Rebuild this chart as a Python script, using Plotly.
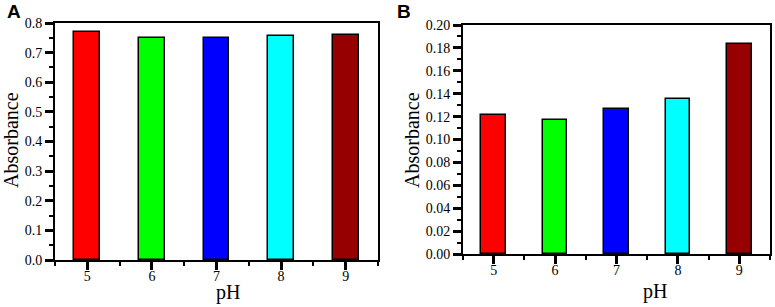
import plotly.graph_objects as go

ph = [5, 6, 7, 8, 9]
absorb_a = [0.768, 0.750, 0.750, 0.756, 0.761]
absorb_b = [0.121, 0.117, 0.127, 0.135, 0.183]
bar_colors = ["#FF0000", "#00FF00", "#0000FF", "#00FFFF", "#960000"]
panel_labels = ["A", "B"]
x_title = "pH"
y_title = "Absorbance"

W, H = 775, 307
fig = go.Figure()
fig.add_trace(go.Bar(x=ph, y=absorb_a, width=0.4, marker=dict(color=bar_colors, line=dict(color="black", width=1.5)),
                     xaxis="x", yaxis="y", showlegend=False))
fig.add_trace(go.Bar(x=ph, y=absorb_b, width=0.4, marker=dict(color=bar_colors, line=dict(color="black", width=1.5)),
                     xaxis="x2", yaxis="y2", showlegend=False))

serif = "Liberation Serif"
tickfont = dict(family=serif, size=14, color="black")

def xax(domain, anchor):
    return dict(domain=domain, anchor=anchor, range=[4.5, 9.5], tickmode="linear", tick0=5, dtick=1,
                ticks="outside", ticklen=8, tickwidth=2.5, tickcolor="black", automargin=False,
                ticklabelstandoff=-6,
                showline=True, linewidth=2, linecolor="black", mirror=True,
                showgrid=False, zeroline=False, tickfont=tickfont,
                minor=dict(tick0=4.5, dtick=0.5, ticks="outside", ticklen=4, tickwidth=2, tickcolor="black", showgrid=False))

def yax(domain, anchor, rng, dtick, mdtick, fmt):
    return dict(domain=domain, anchor=anchor, range=rng, tickmode="linear", tick0=0, dtick=dtick,
                ticks="outside", ticklen=8, tickwidth=2.5, tickcolor="black", automargin=False,
                showline=True, linewidth=2, linecolor="black", mirror=True,
                showgrid=False, zeroline=False, tickfont=tickfont, tickformat=fmt,
                minor=dict(tick0=0, dtick=mdtick, ticks="outside", ticklen=4, tickwidth=2, tickcolor="black", showgrid=False))

fig.update_layout(
    template="none",
    width=W, height=H, margin=dict(l=0, r=0, t=0, b=0, pad=0),
    paper_bgcolor="white", plot_bgcolor="white", bargap=0,
    xaxis=xax([55 / W, 378 / W], "y"),
    yaxis=yax([1 - 260 / H, 1 - 23 / H], "x", [0, 0.8], 0.1, 0.05, ".1f"),
    xaxis2=xax([463 / W, 770 / W], "y2"),
    yaxis2=yax([1 - 254 / H, 1 - 25 / H], "x2", [0, 0.2], 0.02, 0.01, ".2f"),
)

titlefont = dict(family=serif, size=20, color="black")
ann = [
    dict(x=228 / W, y=1 - 292 / H, text=x_title),
    dict(x=655 / W, y=1 - 291 / H, text=x_title),
    dict(x=11 / W, y=1 - 140 / H, text=y_title, textangle=-90),
    dict(x=412 / W, y=1 - 140 / H, text=y_title, textangle=-90),
]
for a in ann:
    fig.add_annotation(xref="paper", yref="paper", showarrow=False, xanchor="center", yanchor="middle",
                       font=titlefont, **a)
fig.add_annotation(xref="paper", yref="paper", x=14 / W, y=1 - 11 / H, text="<b>%s</b>" % panel_labels[0],
                   showarrow=False, xanchor="center", yanchor="middle",
                   font=dict(family="Liberation Sans", size=19, color="black"))
fig.add_annotation(xref="paper", yref="paper", x=404 / W, y=1 - 11 / H, text="<b>%s</b>" % panel_labels[1],
                   showarrow=False, xanchor="center", yanchor="middle",
                   font=dict(family="Liberation Sans", size=19, color="black"))

fig.write_html("out.html", config={"displayModeBar": False},
               post_script="document.body.style.margin='0';document.body.style.overflow='hidden';")
